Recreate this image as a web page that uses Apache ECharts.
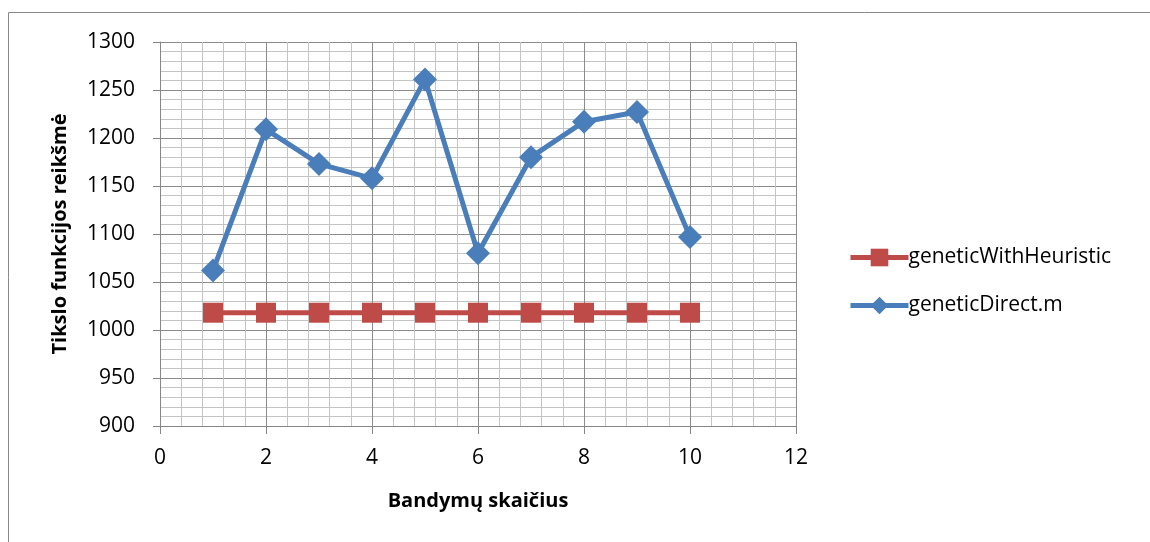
<!DOCTYPE html>
<html>
<head>
<meta charset="utf-8">
<script src="https://cdn.jsdelivr.net/npm/echarts@6/dist/echarts.min.js"></script>
<style>html,body{margin:0;padding:0;background:#fff}#c{width:1150px;height:542px}</style>
</head>
<body>
<div id="c"></div>
<script>
const trials = [1, 2, 3, 4, 5, 6, 7, 8, 9, 10];
const geneticWithHeuristic = [1018, 1018, 1018, 1018, 1018, 1018, 1018, 1018, 1018, 1018];
const geneticDirect = [1062, 1209, 1173, 1158, 1261, 1080, 1180, 1217, 1227, 1097];
const seriesNames = ['geneticWithHeuristic', 'geneticDirect.m'];
const xTitle = 'Bandymų skaičius';
const yTitle = 'Tikslo funkcijos reikšmė';

const FONT = '"Open Sans", sans-serif';
const chart = echarts.init(document.getElementById('c'), null, {renderer: 'canvas'});
const pair = (xs, ys) => xs.map((x, i) => [x, ys[i]]);
chart.setOption({
  animation: false,
  backgroundColor: '#fff',
  textStyle: {fontFamily: FONT},
  graphic: [
    {type: 'line', shape: {x1: 8.5, y1: 12.5, x2: 1150, y2: 12.5},
     style: {stroke: '#8a8a8a', lineWidth: 1}, z: -10},
    {type: 'line', shape: {x1: 8.5, y1: 12.5, x2: 8.5, y2: 542},
     style: {stroke: '#8a8a8a', lineWidth: 1}, z: -10}
  ],
  grid: {left: 160, right: 354, top: 42, bottom: 116, containLabel: false},
  legend: {
    orient: 'vertical', left: 843, top: 242, itemGap: 27,
    itemWidth: 58, itemHeight: 22,
    lineStyle: {width: 5},
    textStyle: {fontFamily: FONT, fontSize: 21, color: '#000', padding: [0, 0, 0, -5]},
    data: seriesNames
  },
  xAxis: {
    type: 'value', min: 0, max: 12, interval: 2,
    name: xTitle, nameLocation: 'middle', nameGap: 65,
    nameTextStyle: {fontFamily: FONT, fontSize: 20, fontWeight: 'bold', color: '#000'},
    axisLine: {show: true, lineStyle: {color: '#868686', width: 1}},
    axisTick: {show: true, length: 8, lineStyle: {color: '#868686'}},
    axisLabel: {fontFamily: FONT, fontSize: 21, color: '#000', margin: 22},
    splitLine: {show: true, lineStyle: {color: '#8c8c8c', width: 1}},
    minorTick: {show: false, splitNumber: 5},
    minorSplitLine: {show: true, lineStyle: {color: '#c4c4c4', width: 1}}
  },
  yAxis: {
    type: 'value', min: 900, max: 1300, interval: 50,
    name: yTitle, nameLocation: 'middle', nameGap: 90, nameRotate: 90,
    nameTextStyle: {fontFamily: FONT, fontSize: 20, fontWeight: 'bold', color: '#000'},
    axisLine: {show: true, lineStyle: {color: '#868686', width: 1}},
    axisTick: {show: true, length: 7, lineStyle: {color: '#868686'}},
    axisLabel: {fontFamily: FONT, fontSize: 21, color: '#000', margin: 25,
                formatter: v => String(v)},
    splitLine: {show: true, lineStyle: {color: '#8c8c8c', width: 1}},
    minorTick: {show: false, splitNumber: 5},
    minorSplitLine: {show: true, lineStyle: {color: '#c4c4c4', width: 1}}
  },
  series: [
    {
      name: seriesNames[0], type: 'line', data: pair(trials, geneticWithHeuristic),
      symbol: 'rect', symbolSize: 20,
      lineStyle: {color: '#be4b48', width: 5},
      itemStyle: {color: '#be4b48'}, z: 2
    },
    {
      name: seriesNames[1], type: 'line', data: pair(trials, geneticDirect),
      symbol: 'diamond', symbolSize: 24,
      lineStyle: {color: '#4a7ebb', width: 5},
      itemStyle: {color: '#4a7ebb'}, z: 3
    }
  ]
});
</script>
</body>
</html>
